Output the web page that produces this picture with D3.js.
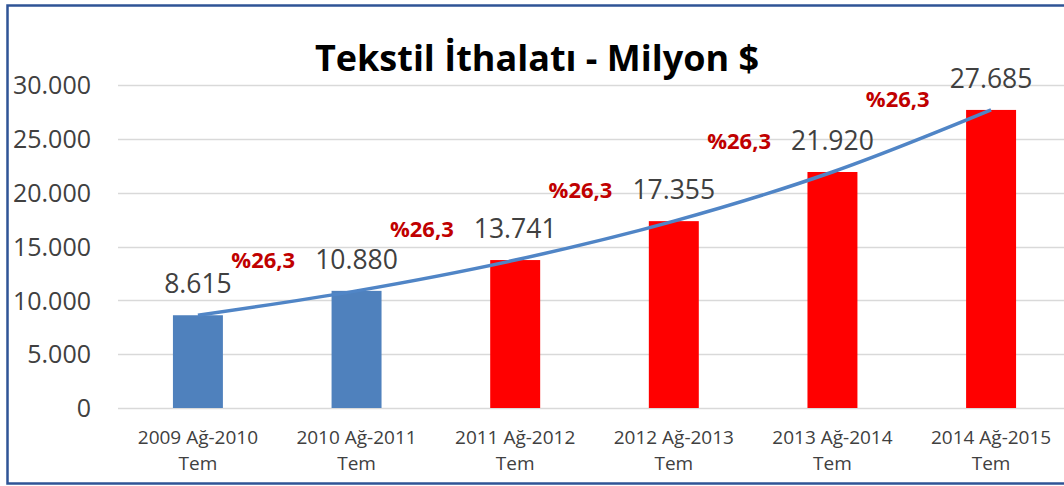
<!DOCTYPE html>
<html>
<head>
<meta charset="utf-8">
<script src="https://cdn.jsdelivr.net/npm/d3@7"></script>
<style>
  body { margin: 0; background: #fff; }
  svg { display: block; }
</style>
</head>
<body>
<div id="chart"></div>
<script>
// data
var categories = ["2009 Ağ-2010 Tem", "2010 Ağ-2011 Tem", "2011 Ağ-2012 Tem",
                  "2012 Ağ-2013 Tem", "2013 Ağ-2014 Tem", "2014 Ağ-2015 Tem"];
var values = [8615, 10880, 13741, 17355, 21920, 27685];
var highlighted = [false, false, true, true, true, true];
var growthLabels = ["%26,3", "%26,3", "%26,3", "%26,3", "%26,3"];
var yTicks = [0, 5000, 10000, 15000, 20000, 25000, 30000];
var title = "Tekstil İthalatı - Milyon $";

var width = 1064, height = 486;
var font = "'Open Sans', 'DejaVu Sans', sans-serif";

var svg = d3.select("#chart").append("svg")
  .attr("width", width)
  .attr("height", height);

svg.append("rect")
  .attr("x", 0).attr("y", 0)
  .attr("width", width).attr("height", height)
  .attr("fill", "#fff");

// chart frame (right edge falls outside the picture)
svg.append("rect")
  .attr("x", 7.5).attr("y", 5.5)
  .attr("width", width + 20).attr("height", 478)
  .attr("fill", "none")
  .attr("stroke", "#2F5496")
  .attr("stroke-width", 2.5);

var x = d3.scaleBand()
  .domain(categories)
  .range([119, 1070])
  .paddingInner(0.685)
  .paddingOuter(0.34);

var y = d3.scaleLinear()
  .domain([0, 30000])
  .range([408, 85]);

var fmt = d3.formatLocale({decimal: ",", thousands: ".", grouping: [3], currency: ["", ""]}).format(",d");

// gridlines
svg.append("g")
  .selectAll("line")
  .data(yTicks)
  .enter().append("line")
  .attr("x1", 118).attr("x2", width)
  .attr("y1", function(d) { return Math.round(y(d)) + 0.5; })
  .attr("y2", function(d) { return Math.round(y(d)) + 0.5; })
  .attr("stroke", "#D9D9D9")
  .attr("stroke-width", 1.5);

// y axis labels
var yAxis = d3.axisLeft(y).tickValues(yTicks).tickFormat(fmt).tickSize(0).tickPadding(0);
var gy = svg.append("g")
  .attr("transform", "translate(91,0)")
  .call(yAxis);
gy.select(".domain").remove();
gy.selectAll("text")
  .attr("font-family", font)
  .attr("font-size", 25)
  .attr("fill", "#404040")
  .attr("dy", "0.35em");

// bars
svg.append("g")
  .selectAll("rect")
  .data(values)
  .enter().append("rect")
  .attr("x", function(d, i) { return x(categories[i]); })
  .attr("y", function(d) { return y(d); })
  .attr("width", x.bandwidth())
  .attr("height", function(d) { return y(0) - y(d); })
  .attr("fill", function(d, i) { return highlighted[i] ? "#FF0000" : "#4F81BD"; });

// trend line through bar tops
var line = d3.line()
  .x(function(d, i) { return x(categories[i]) + x.bandwidth() / 2; })
  .y(function(d) { return y(d); })
  .curve(d3.curveCatmullRom);

svg.append("path")
  .datum(values)
  .attr("d", line)
  .attr("fill", "none")
  .attr("stroke", "#5085C6")
  .attr("stroke-width", 3.5);

// value labels
svg.append("g")
  .selectAll("text")
  .data(values)
  .enter().append("text")
  .attr("x", function(d, i) { return x(categories[i]) + x.bandwidth() / 2; })
  .attr("y", function(d) { return y(d) - 22; })
  .attr("text-anchor", "middle")
  .attr("font-family", font)
  .attr("font-size", 26.5)
  .attr("fill", "#404040")
  .text(function(d) { return fmt(d); });

// growth labels between bars
svg.append("g")
  .selectAll("text")
  .data(growthLabels)
  .enter().append("text")
  .attr("x", function(d, i) {
    var a = x(categories[i]) + x.bandwidth() / 2;
    var b = x(categories[i + 1]) + x.bandwidth() / 2;
    return (a + b) / 2 - 14;
  })
  .attr("y", function(d, i) { return Math.max(y(values[i + 1]) - 30, 100) + 7; })
  .attr("text-anchor", "middle")
  .attr("font-family", font)
  .attr("font-size", 22)
  .attr("font-weight", "bold")
  .attr("fill", "#C00000")
  .text(function(d) { return d; });

// category labels (two lines)
var cat = svg.append("g")
  .selectAll("text")
  .data(categories)
  .enter().append("text")
  .attr("text-anchor", "middle")
  .attr("font-family", font)
  .attr("font-size", 19)
  .attr("fill", "#404040");

cat.append("tspan")
  .attr("x", function(d) { return x(d) + x.bandwidth() / 2; })
  .attr("y", 444)
  .text(function(d) { return d.replace(/ Tem$/, ""); });
cat.append("tspan")
  .attr("x", function(d) { return x(d) + x.bandwidth() / 2; })
  .attr("y", 470)
  .text("Tem");

// title
svg.append("text")
  .attr("x", 537)
  .attr("y", 71)
  .attr("text-anchor", "middle")
  .attr("font-family", font)
  .attr("font-size", 36)
  .attr("font-weight", "bold")
  .attr("fill", "#000")
  .text(title);
</script>
</body>
</html>
